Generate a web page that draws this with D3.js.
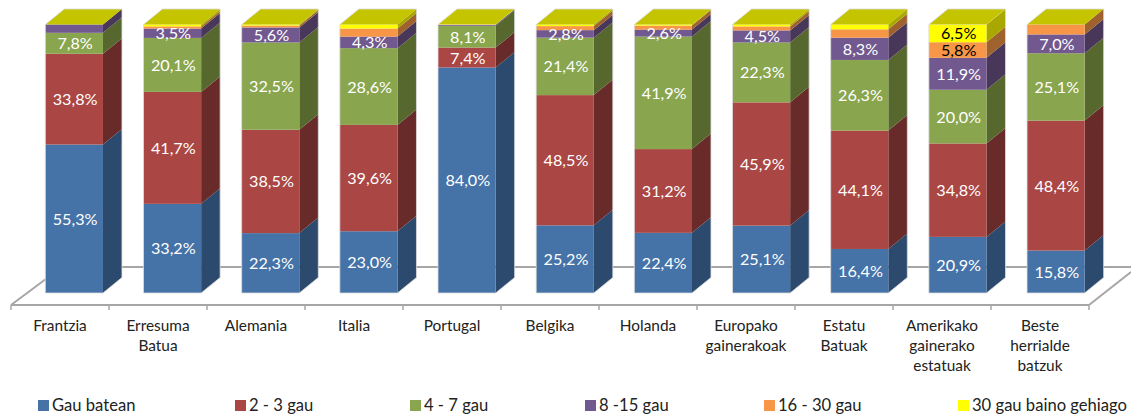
<!DOCTYPE html>
<html>
<head>
  <meta charset="utf-8">
  <title>Gau kopurua herrialdeka</title>
  <style>
  html, body { margin: 0; padding: 0; background: #fff; }
  svg { display: block; font-family: Lato, "Open Sans", sans-serif; }
  </style>
</head>
<body>
  <svg width="1131" height="416"></svg>
  <script src="https://d3js.org/d3.v7.min.js"></script>
  <script>
  // data
  var countries = ["Frantzia", "Erresuma Batua", "Alemania", "Italia", "Portugal", "Belgika",
    "Holanda", "Europako gainerakoak", "Estatu Batuak", "Amerikako gainerako estatuak", "Beste herrialde batzuk"];
  var countryLines = [["Frantzia"], ["Erresuma", "Batua"], ["Alemania"], ["Italia"], ["Portugal"], ["Belgika"],
    ["Holanda"], ["Europako", "gainerakoak"], ["Estatu", "Batuak"], ["Amerikako", "gainerako", "estatuak"], ["Beste", "herrialde", "batzuk"]];
  var seriesNames = ["Gau batean", "2 - 3 gau", "4 - 7 gau", "8 -15 gau", "16 - 30 gau", "30 gau baino gehiago"];

  var gau1 = [55.3, 33.2, 22.3, 23.0, 84.0, 25.2, 22.4, 25.1, 16.4, 20.9, 15.8];
  var gau2_3 = [33.8, 41.7, 38.5, 39.6, 7.4, 48.5, 31.2, 45.9, 44.1, 34.8, 48.4];
  var gau4_7 = [7.8, 20.1, 32.5, 28.6, 8.1, 21.4, 41.9, 22.3, 26.3, 20.0, 25.1];
  var gau8_15 = [3.1, 3.5, 5.6, 4.3, 0.3, 2.8, 2.6, 4.5, 8.3, 11.9, 7.0];
  var gau16_30 = [0, 0.8, 0.7, 3.0, 0.1, 1.5, 1.5, 1.5, 3.1, 5.8, 3.7];
  var gau30 = [0, 0.7, 0.4, 1.5, 0, 0.6, 0.4, 0.7, 1.8, 6.5, 0];
  var seriesValues = [gau1, gau2_3, gau4_7, gau8_15, gau16_30, gau30];

  // which values have a printed label, same order as seriesValues
  var labelled = [
    [1, 1, 1, 1, 1, 1, 1, 1, 1, 1, 1],
    [1, 1, 1, 1, 1, 1, 1, 1, 1, 1, 1],
    [1, 1, 1, 1, 1, 1, 1, 1, 1, 1, 1],
    [0, 1, 1, 1, 0, 1, 1, 1, 1, 1, 1],
    [0, 0, 0, 0, 0, 0, 0, 0, 0, 1, 0],
    [0, 0, 0, 0, 0, 0, 0, 0, 0, 1, 0]
  ];

  var frontColors = ["#4572a7", "#aa4643", "#89a54e", "#71588f", "#f79646", "#ffff00"];
  var sideColors = ["#2c4a6e", "#682b29", "#57682f", "#483759", "#a0622d", "#a8a800"];
  var labelColors = ["#fff", "#fff", "#fff", "#fff", "#000", "#000"];
  var topColor = "#c4c400";
  var legendX = [38, 235, 410, 585, 764, 958];

  var depthX = 19, depthY = 15.5;
  var floorY = 305, backY = 267;

  var svg = d3.select("svg");

  var slot = d3.scaleBand().domain(countries).range([11, 1089]);
  var x = d3.scaleBand().domain(countries).range([4.8, 1125.2]).paddingInner(0.413).paddingOuter(0.413);
  var y = d3.scaleLinear().domain([0, 100]).range([293, 24.5]);

  var stack = d3.stack()
    .keys(d3.range(seriesNames.length))
    .value(function(d, k) { return seriesValues[k][d]; })
    .order(d3.stackOrderNone)(d3.range(countries.length));

  // floor
  var floor = svg.append("g").attr("fill", "none").attr("stroke", "#a6a6a6").attr("stroke-width", 2);
  floor.append("path").attr("d", "M11," + floorY + "L62," + backY + "H1131");
  floor.append("path").attr("d", "M1089," + floorY + "L1131," + (floorY - 33));

  // x axis, with the ticks going down between the groups
  var axisG = svg.append("g").attr("transform", "translate(0," + floorY + ")");
  axisG.append("line").attr("x1", 11).attr("x2", 1089).attr("stroke", "#a6a6a6").attr("stroke-width", 2);
  axisG.selectAll(".tick").data(d3.range(countries.length + 1)).enter().append("line")
    .attr("x1", function(i) { return 11 + i * slot.step(); })
    .attr("x2", function(i) { return 11 + i * slot.step(); })
    .attr("y1", 0).attr("y2", 5)
    .attr("stroke", "#a6a6a6").attr("stroke-width", 1.5);

  var names = svg.append("g").selectAll("text").data(countries).enter().append("text")
    .attr("text-anchor", "middle")
    .attr("font-size", 15.4)
    .attr("fill", "#222");
  names.each(function(d, i) {
    d3.select(this).selectAll("tspan").data(countryLines[i]).enter().append("tspan")
      .attr("x", slot(d) + slot.bandwidth() / 2)
      .attr("y", function(t, j) { return 331 + j * 20; })
      .text(function(t) { return t; });
  });

  // bars
  var bars = svg.append("g");
  countries.forEach(function(c, i) {
    var x0 = x(c), w = x.bandwidth();
    var g = bars.append("g");

    stack.forEach(function(s, k) {
      var y0 = y(s[i][0]), y1 = y(s[i][1]);
      if (y0 - y1 <= 0) return;
      g.append("path")
        .attr("fill", sideColors[k])
        .attr("d", "M" + (x0 + w) + "," + y0 + "V" + y1 + "l" + depthX + "," + (-depthY) + "V" + (y0 - depthY) + "Z");
      g.append("rect")
        .attr("x", x0).attr("y", y1)
        .attr("width", w).attr("height", y0 - y1)
        .attr("fill", frontColors[k]);
    });

    g.append("path")
      .attr("fill", topColor)
      .attr("d", "M" + x0 + "," + y(100) + "l" + depthX + "," + (-depthY) + "h" + w + "l" + (-depthX) + "," + depthY + "Z");

    g.append("path")
      .attr("fill", "none")
      .attr("stroke", "#dcdcdc")
      .attr("stroke-width", 0.8)
      .attr("d", "M" + x0 + "," + y(0) + "V" + y(100) + "l" + depthX + "," + (-depthY) + "h" + w + "V" + (y(0) - depthY) + "l" + (-depthX) + "," + depthY + "Z");
  });

  // value labels
  var labels = svg.append("g").attr("text-anchor", "middle").attr("font-size", 16.2);
  stack.forEach(function(s, k) {
    countries.forEach(function(c, i) {
      if (!labelled[k][i]) return;
      labels.append("text")
        .attr("x", x(c) + x.bandwidth() / 2 + 1)
        .attr("y", y((s[i][0] + s[i][1]) / 2) + 6)
        .attr("fill", labelColors[k])
        .text(seriesValues[k][i].toFixed(1).replace(".", ",") + "%");
    });
  });

  // legend
  var legend = svg.append("g").selectAll("g").data(seriesNames).enter().append("g")
    .attr("transform", function(d, i) { return "translate(" + legendX[i] + ",400)"; });
  legend.append("rect").attr("width", 11).attr("height", 11)
    .attr("fill", function(d, i) { return frontColors[i]; });
  legend.append("text").attr("x", 14).attr("y", 11)
    .attr("font-size", 16.6).attr("fill", "#222")
    .text(function(d) { return d; });
  </script>
</body>
</html>
